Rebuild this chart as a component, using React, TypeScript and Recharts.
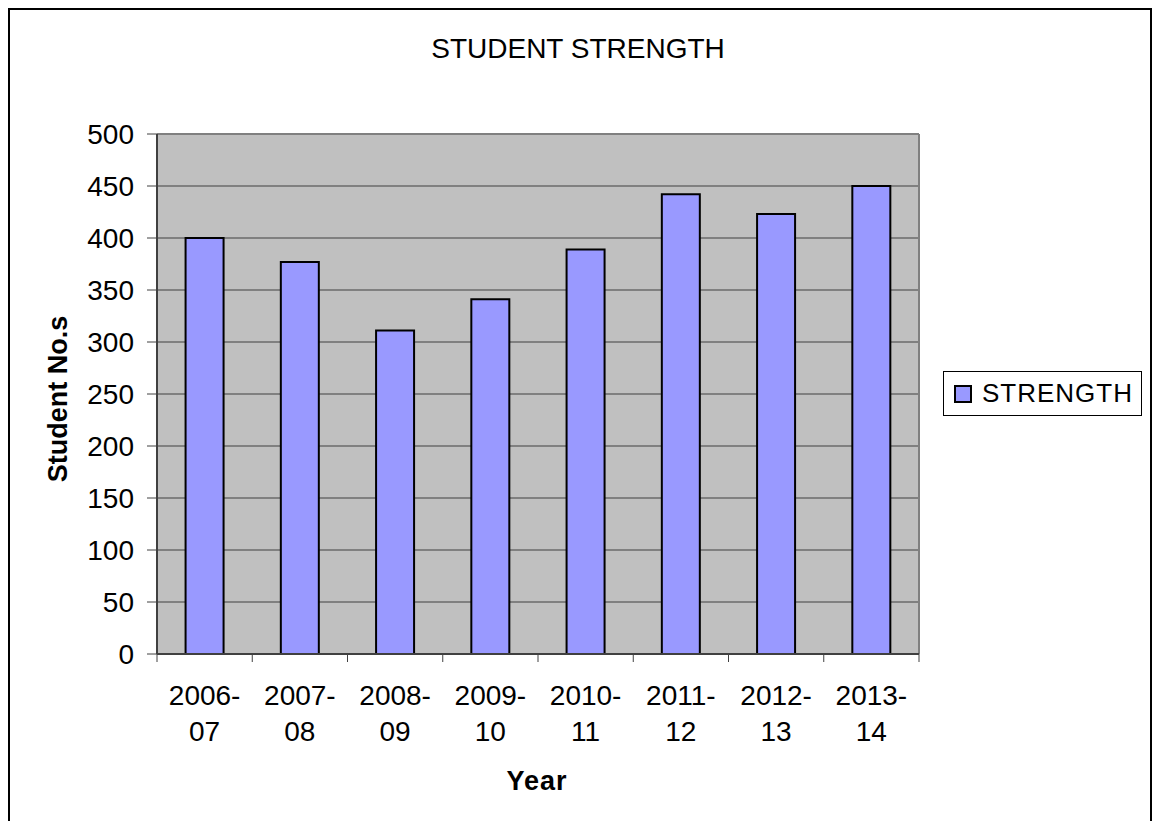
import { Bar, BarChart, CartesianGrid, XAxis, YAxis } from "recharts"

const years = ["2006-07", "2007-08", "2008-09", "2009-10", "2010-11", "2011-12", "2012-13", "2013-14"]
const strength = [400, 377, 311, 341, 389, 442, 423, 450]
const yTicks = [0, 50, 100, 150, 200, 250, 300, 350, 400, 450, 500]
const seriesName = "STRENGTH"

const data = years.map((year, i) => ({ year, strength: strength[i] }))

const FONT = '"Liberation Sans", Arial, sans-serif'

function YearTick(props: any) {
  const { x, y, payload, index } = props
  const half = payload.offset ?? 0
  const [first, second] = String(payload.value).split("-")
  const isLast = index === years.length - 1
  return (
    <g>
      <line x1={x - half} x2={x - half} y1={y} y2={y + 8} stroke="#404040" />
      {isLast && <line x1={x + half} x2={x + half} y1={y} y2={y + 8} stroke="#404040" />}
      <text x={x} y={y + 51} textAnchor="middle" fontSize={28} fill="#000" fontFamily={FONT}>
        {first}-
      </text>
      <text x={x} y={y + 87} textAnchor="middle" fontSize={28} fill="#000" fontFamily={FONT}>
        {second}
      </text>
    </g>
  )
}

export default function App() {
  return (
    <div style={{ position: "relative", width: 1154, height: 821, fontFamily: FONT }}>
      <style>{`body{margin:0;overflow:hidden;background:#fff}`}</style>
      <div
        style={{
          position: "absolute",
          left: 8,
          top: 8,
          width: 1144,
          height: 840,
          boxSizing: "border-box",
          border: "2px solid #000",
        }}
      />
      <BarChart
        width={1154}
        height={821}
        data={data}
        margin={{ top: 134, right: 235, bottom: 67, left: 57 }}
        barCategoryGap="30%"
        style={{ position: "absolute", left: 0, top: 0 }}
      >
        <CartesianGrid vertical={false} stroke="#404040" fill="#c0c0c0" fillOpacity={1} />
        <CartesianGrid
          stroke="#808080"
          strokeWidth={2}
          horizontalCoordinatesGenerator={({ offset }: any) => [offset.top]}
          verticalCoordinatesGenerator={({ offset }: any) => [offset.left + offset.width]}
        />
        <XAxis
          dataKey="year"
          height={100}
          tickSize={0}
          tickMargin={0}
          axisLine={{ stroke: "#404040", strokeWidth: 2 }}
          tickLine={false}
          tick={<YearTick />}
          interval={0}
        />
        <YAxis
          width={100}
          domain={[0, 500]}
          ticks={yTicks}
          interval={0}
          tickSize={10}
          tickMargin={13}
          axisLine={{ stroke: "#404040", strokeWidth: 2 }}
          tickLine={{ stroke: "#404040" }}
          tick={{ fontSize: 28, fill: "#000", fontFamily: FONT }}
        />
        <Bar
          dataKey="strength"
          name={seriesName}
          fill="#9999ff"
          stroke="#000"
          strokeWidth={2}
          isAnimationActive={false}
        />
      </BarChart>
      <svg width={1154} height={821} style={{ position: "absolute", left: 0, top: 0, pointerEvents: "none" }}>
        <text x={578} y={58} textAnchor="middle" fontSize={28} fontFamily={FONT} fill="#000">
          STUDENT STRENGTH
        </text>
        <text x={537} y={790} textAnchor="middle" fontSize={27} fontWeight="bold" letterSpacing={1} fontFamily={FONT} fill="#000">
          Year
        </text>
        <text
          x={0}
          y={0}
          transform="translate(67 399) rotate(-90)"
          textAnchor="middle"
          fontSize={27}
          fontWeight="bold"
          fontFamily={FONT}
          fill="#000"
        >
          Student No.s
        </text>
      </svg>
      <div
        style={{
          position: "absolute",
          left: 943,
          top: 371,
          width: 199,
          height: 45,
          boxSizing: "border-box",
          border: "1px solid #000",
          background: "#fff",
          display: "flex",
          alignItems: "center",
        }}
      >
        <span
          style={{
            display: "inline-block",
            width: 14,
            height: 14,
            marginLeft: 10,
            marginRight: 10,
            background: "#9999ff",
            border: "2px solid #000",
          }}
        />
        <span style={{ fontSize: 26, letterSpacing: 1, color: "#000" }}>{seriesName}</span>
      </div>
    </div>
  )
}
